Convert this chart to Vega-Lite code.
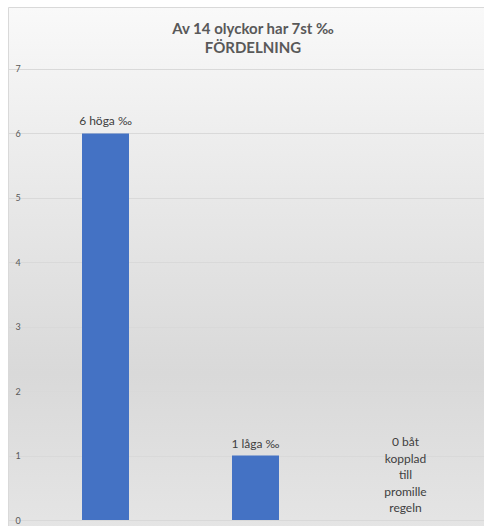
{
  "$schema": "https://vega.github.io/schema/vega-lite/v6.json",
  "autosize": "none",
  "padding": {"left": 8, "top": 7, "right": 0, "bottom": 0},
  "width": 482,
  "height": 523,
  "background": "white",
  "title": {
    "text": ["Av 14 olyckor har 7st ‰", "FÖRDELNING"],
    "font": "Lato",
    "fontSize": 15,
    "fontWeight": "bold",
    "color": "#595959",
    "anchor": "middle",
    "lineHeight": 19,
    "dy": 53,
    "dx": 4
  },
  "data": {
    "values": [
      {"kategori": "höga", "antal": 6, "etikett": "6 höga ‰"},
      {"kategori": "låga", "antal": 1, "etikett": "1 låga ‰"},
      {"kategori": "båt", "antal": 0, "etikett": "0 båt|kopplad|till|promille|regeln"}
    ]
  },
  "encoding": {
    "x": {
      "field": "kategori",
      "type": "nominal",
      "sort": null,
      "scale": {"paddingInner": 0, "paddingOuter": 0.1067, "align": 0.703},
      "axis": null
    },
    "y": {
      "field": "antal",
      "type": "quantitative",
      "scale": {"domain": [-0.155, 7.962], "nice": false, "zero": false},
      "axis": {
        "values": [0, 1, 2, 3, 4, 5, 6, 7],
        "title": null,
        "domain": false,
        "ticks": false,
        "labelAlign": "left",
        "labelPadding": -7,
        "labelFont": "Lato",
        "labelFontSize": 9,
        "labelColor": "#595959",
        "gridColor": "#d9d9d9",
        "gridWidth": 1
      }
    }
  },
  "layer": [
    {
      "mark": {"type": "bar", "size": 47, "color": "#4472C4"}
    },
    {
      "transform": [{"filter": "datum.antal > 0"}],
      "mark": {
        "type": "text",
        "baseline": "bottom",
        "dy": -5,
        "font": "Lato",
        "fontSize": 12,
        "color": "#404040"
      },
      "encoding": {"text": {"field": "etikett", "type": "nominal"}}
    },
    {
      "transform": [{"filter": "datum.antal == 0"}],
      "mark": {
        "type": "text",
        "baseline": "bottom",
        "dy": -71,
        "font": "Lato",
        "fontSize": 12,
        "color": "#404040",
        "lineBreak": "|",
        "lineHeight": 16.5
      },
      "encoding": {"text": {"field": "etikett", "type": "nominal"}}
    }
  ],
  "config": {
    "view": {
      "stroke": "#d9d9d9",
      "strokeWidth": 1,
      "fill": {
        "gradient": "linear",
        "x1": 0, "y1": 0, "x2": 0, "y2": 1,
        "stops": [
          {"offset": 0, "color": "#f9f9f9"},
          {"offset": 0.3, "color": "#ebebeb"},
          {"offset": 0.7, "color": "#d9d9d9"},
          {"offset": 1, "color": "#e5e5e5"}
        ]
      }
    }
  }
}
